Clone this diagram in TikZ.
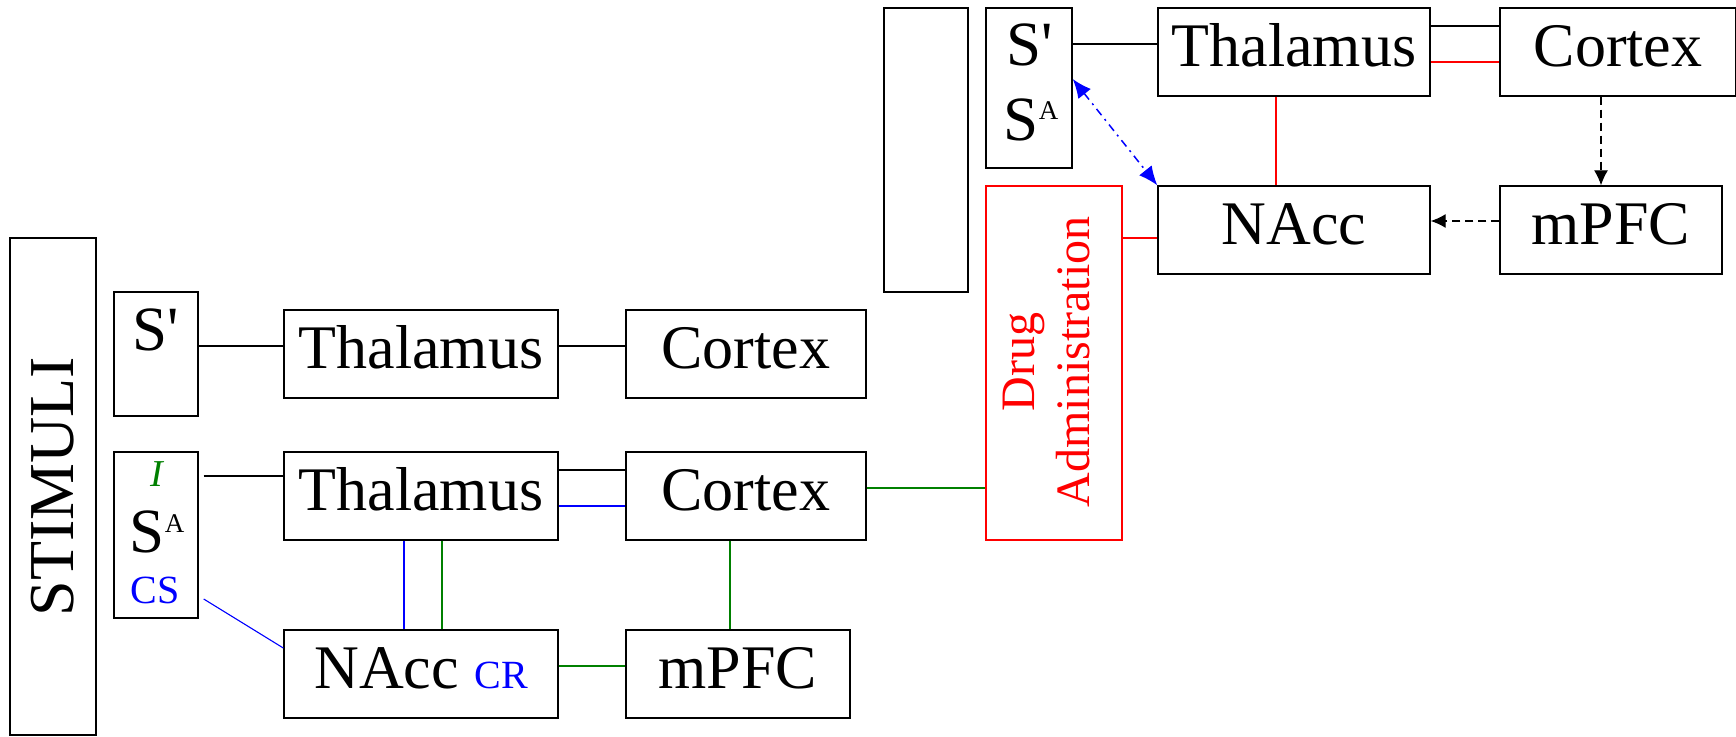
\documentclass[tikz,border=0pt]{standalone}
\usepackage{fontspec}
\setmainfont{Liberation Serif}
\newfontfamily\plainrm{Liberation Serif}
\usetikzlibrary{arrows.meta}
\definecolor{dgreen}{RGB}{0,128,0}
\definecolor{pblue}{RGB}{0,0,255}
\definecolor{pred}{RGB}{255,0,0}
\tikzset{
  box/.style={draw, line width=1.4pt, inner sep=0pt, minimum height=88pt,
    text height=42pt, text depth=14pt, font=\fontsize{62}{70}\selectfont},
  plainbox/.style={draw, line width=1.4pt, inner sep=0pt},
  conn/.style={line width=1.1pt},
  lbl/.style={anchor=base, inner sep=0pt},
  bigtxt/.style={font=\plainrm\fontsize{63}{70}\selectfont},
  blk/.style={-{Latex[length=15pt,width=14pt]}, dash pattern=on 8pt off 5pt, line width=1.2pt},
  bluearr/.style={{Latex[length=19pt,width=16pt]}-{Latex[length=19pt,width=16pt]}, pblue,
    dash pattern=on 8pt off 5pt on 2pt off 5pt, line width=1.5pt}
}
\begin{document}
\begin{tikzpicture}[x=1pt,y=-1pt]
\useasboundingbox (0,0) rectangle (1736,736);
% left part
\node[plainbox, rotate=90, minimum width=497pt, minimum height=86pt,
  font=\fontsize{64}{70}\selectfont] (stim) at (53,486.5) {STIMULI};
\node[plainbox, minimum width=84pt, minimum height=124pt] (s1) at (156,354) {};
\node[lbl, bigtxt] (s1t) at (156,350) {S'};
\node[box, minimum width=274pt] (th1) at (421,354) {Thalamus};
\node[box, minimum width=240pt] (cx1) at (746,354) {Cortex};
\node[plainbox, minimum width=84pt, minimum height=166pt] (sa) at (156,535) {};
\node[lbl, text=dgreen, font=\fontsize{38}{40}\selectfont\itshape] (sai) at (157,486) {I};
\node[lbl, bigtxt] (sas) at (157,552) {S\raisebox{20pt}{\fontsize{27}{27}\selectfont A}};
\node[lbl, text=pblue, font=\fontsize{40}{42}\selectfont] (sacs) at (155,603) {CS};
\node[box, minimum width=274pt] (th2) at (421,496) {Thalamus};
\node[box, minimum width=240pt] (cx2) at (746,496) {Cortex};
\node[box, minimum width=274pt] (na2) at (421,674) {NAcc {\color{pblue}\fontsize{40}{42}\selectfont CR}};
\node[box, minimum width=224pt] (mp2) at (738,674) {mPFC};
% drug
\node[plainbox, draw=pred, minimum width=136pt, minimum height=354pt] (drug) at (1054,363) {};
\node[rotate=90, text=pred, align=center, inner sep=0pt,
  font=\fontsize{48}{55}\selectfont] (drugt) at (1047,362) {Drug\\Administration};
% top right part
\node[plainbox, minimum width=84pt, minimum height=284pt] (emp) at (926,150) {};
\node[plainbox, minimum width=86pt, minimum height=160pt] (s3) at (1029,88) {};
\node[lbl, bigtxt] (s3a) at (1030,65) {S'};
\node[lbl, bigtxt] (s3b) at (1031,140) {S\raisebox{21pt}{\fontsize{27}{27}\selectfont A}};
\node[box, minimum width=272pt] (th3) at (1294,52) {Thalamus};
\node[box, minimum width=236pt] (cx3) at (1618,52) {Cortex};
\node[box, minimum width=272pt] (na3) at (1294,230) {NAcc};
\node[box, minimum width=222pt] (mp3) at (1611,230) {mPFC};
% connectors left
\draw[conn] ([yshift=8pt]s1.east) -- ([yshift=8pt]th1.west);
\draw[conn] ([yshift=8pt]th1.east) -- ([yshift=8pt]cx1.west);
\draw[conn] ([xshift=5pt,yshift=59pt]sa.east) -- ([yshift=20pt]th2.west);
\draw[conn] ([yshift=26pt]th2.east) -- ([yshift=26pt]cx2.west);
\draw[conn, pblue] ([yshift=-10pt]th2.east) -- ([yshift=-10pt]cx2.west);
\draw[conn, pblue] ([xshift=5pt,yshift=-64pt]sa.east) -- ([yshift=26pt]na2.west);
\draw[conn, pblue] ([xshift=-17pt]th2.south) -- ([xshift=-17pt]na2.north);
\draw[conn, dgreen] ([xshift=21pt]th2.south) -- ([xshift=21pt]na2.north);
\draw[conn, dgreen] ([yshift=8pt]na2.east) -- ([yshift=8pt]mp2.west);
\draw[conn, dgreen] ([xshift=-16pt]cx2.south) -- ([xshift=-16pt]cx2.south |- mp2.north);
\draw[conn, dgreen] ([yshift=8pt]cx2.east) -- ([yshift=8pt]cx2.east -| drug.west);
% connectors top right
\draw[conn] ([yshift=8pt]th3.west -| s3.east) -- ([yshift=8pt]th3.west);
\draw[conn] ([yshift=26pt]th3.east) -- ([yshift=26pt]cx3.west);
\draw[conn, pred] ([yshift=-10pt]th3.east) -- ([yshift=-10pt]cx3.west);
\draw[conn, pred] ([xshift=-18pt]th3.south) -- ([xshift=-18pt]na3.north);
\draw[conn, pred] ([yshift=-8pt]na3.west -| drug.east) -- ([yshift=-8pt]na3.west);
\draw[bluearr] ([yshift=9pt]s3.east) -- (na3.north west);
\draw[blk] ([xshift=-17pt]cx3.south) -- ([xshift=-17pt]cx3.south |- mp3.north);
\draw[blk] ([yshift=9pt]mp3.west) -- ([yshift=9pt]mp3.west -| na3.east);
\end{tikzpicture}
\end{document}
